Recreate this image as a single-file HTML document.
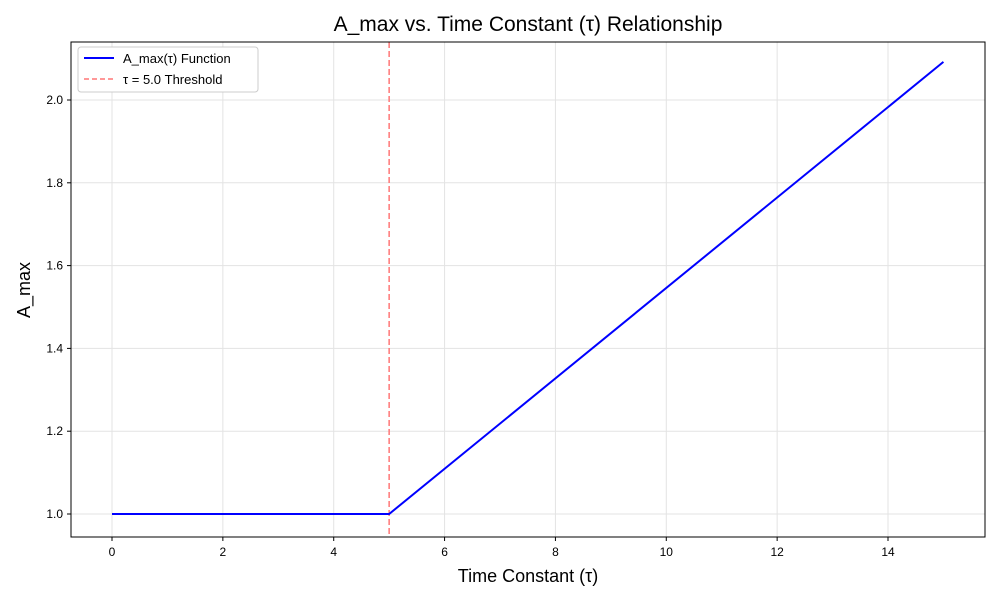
<!DOCTYPE html>
<html><head><meta charset="utf-8"><style>
body{margin:0;background:#fff;}
svg{font-family:"Liberation Sans","DejaVu Sans",sans-serif;}
</style></head><body>
<svg id="chart" width="1000" height="600" viewBox="0 0 1000 600">
<rect width="1000" height="600" fill="#fff"/>
<g id="grid"></g>
<g id="ticks"></g>
<g id="series"></g>
<rect x="71" y="42" width="914" height="495" fill="none" stroke="#000" stroke-width="1"/>
<text x="528" y="31" text-anchor="middle" font-size="21">A_max vs. Time Constant (τ) Relationship</text>
<text x="528" y="582" text-anchor="middle" font-size="18">Time Constant (τ)</text>
<text x="30" y="290" text-anchor="middle" font-size="18" transform="rotate(-90 30 290)">A_max</text>
<g>
<rect x="78" y="47" width="180" height="45" rx="3" fill="#fff" stroke="#ccc"/>
<line x1="84" y1="58" x2="114" y2="58" stroke="#0000ff" stroke-width="2"/>
<text x="123" y="63" font-size="13">A_max(τ) Function</text>
<line x1="84" y1="79" x2="114" y2="79" stroke="#ff7777" stroke-width="1.5" stroke-dasharray="5,3"/>
<text x="123" y="84" font-size="13">τ = 5.0 Threshold</text>
</g>
</svg>
<script>
const tauValues=[0,5,15];
const amaxValues=[1.0,1.0,2.092];
const xTicks=[0,2,4,6,8,10,12,14];
const yTicks=[1.0,1.2,1.4,1.6,1.8,2.0];
const threshold=5.0;
const NS="http://www.w3.org/2000/svg";
function xs(v){return 112+v*(888-112)/14;}
function ys(v){return 514-(v-1)*414;}
function mk(tag,attrs,parent){const e=document.createElementNS(NS,tag);for(const k in attrs)e.setAttribute(k,attrs[k]);parent.appendChild(e);return e;}
const grid=document.getElementById('grid'),ticks=document.getElementById('ticks'),series=document.getElementById('series');
xTicks.forEach(t=>{const x=xs(t);
 const g=mk('line',{x1:x,x2:x,y1:42,y2:537,stroke:'#e3e3e3','stroke-width':1},grid);
 
 
 const tk=mk('line',{x1:x,x2:x,y1:537,y2:541,stroke:'#000'},ticks);
 
 
 const l=mk('text',{x:x,y:556,'text-anchor':'middle','font-size':12},ticks);l.textContent=t;
 
 
});
yTicks.forEach(t=>{const y=ys(t);
 const g=mk('line',{x1:71,x2:985,y1:y,y2:y,stroke:'#e3e3e3','stroke-width':1},grid);
 
 
 const tk=mk('line',{x1:67,x2:71,y1:y,y2:y,stroke:'#000'},ticks);
 
 
 const l=mk('text',{x:63,y:y+4,'text-anchor':'end','font-size':12},ticks);l.textContent=t.toFixed(1);
 
 
});
const th=mk('line',{x1:xs(threshold),x2:xs(threshold),y1:42,y2:537,stroke:'#ff7777','stroke-width':1.5,'stroke-dasharray':'6,3'},series);


const pts=tauValues.map((t,i)=>xs(t)+','+ys(amaxValues[i])).join(' ');
const pl=mk('polyline',{points:pts,fill:'none',stroke:'#0000ff','stroke-width':2},series);


</script>
</body></html>
